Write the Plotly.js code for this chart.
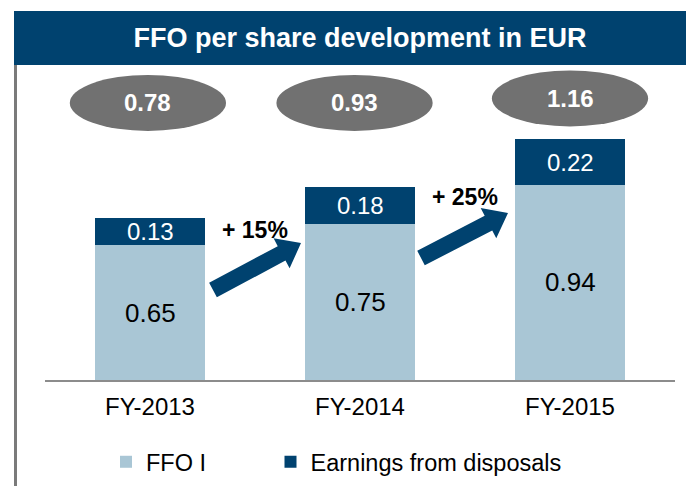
<!DOCTYPE html>
<html>
<head>
<meta charset="utf-8">
<script src="https://cdn.plot.ly/plotly-3.0.1.min.js"></script>
<style>
  html, body { margin: 0; padding: 0; background: #ffffff; }
  #chart { width: 686px; height: 486px; }
</style>
</head>
<body>
<div id="chart"></div>
<script>
// ---- data ----
const categories = ['FY-2013', 'FY-2014', 'FY-2015'];
const ffoI = [0.65, 0.75, 0.94];
const disposals = [0.13, 0.18, 0.22];
const totals = [0.78, 0.93, 1.16];
const growthLabels = ['+ 15%', '+ 25%'];
const seriesNames = ['FFO I', 'Earnings from disposals'];
const chartTitle = 'FFO per share development in EUR';

// ---- style ----
const FONT = '"Liberation Sans", Arial, Helvetica, sans-serif';
const NAVY = '#00426F';
const LIGHT = '#A9C6D5';
const GREY = '#717171';

const W = 686, H = 486;
const M = { l: 45, r: 11, t: 65, b: 106, autoexpand: false };
const plotW = W - M.l - M.r, plotH = H - M.t - M.b;
const yTop = 1.518;
const xRange = [-0.5, 2.5];

function pxX(px) { return (px - M.l) / plotW; }
function pxY(py) { return (H - M.b - py) / plotH; }

function arrowPath(tail, tip, shaftHalf, headHalf, headLen) {
  const dx = tip[0] - tail[0], dy = tip[1] - tail[1];
  const len = Math.sqrt(dx * dx + dy * dy);
  const ux = dx / len, uy = dy / len;
  const nx = -uy, ny = ux;
  const bx = tip[0] - headLen * ux, by = tip[1] - headLen * uy;
  const pts = [
    [tail[0] + shaftHalf * nx, tail[1] + shaftHalf * ny],
    [bx + shaftHalf * nx, by + shaftHalf * ny],
    [bx + headHalf * nx, by + headHalf * ny],
    [tip[0], tip[1]],
    [bx - headHalf * nx, by - headHalf * ny],
    [bx - shaftHalf * nx, by - shaftHalf * ny],
    [tail[0] - shaftHalf * nx, tail[1] - shaftHalf * ny]
  ];
  return 'M' + pts.map(p => pxX(p[0]).toFixed(5) + ',' + pxY(p[1]).toFixed(5)).join(' L') + ' Z';
}

const traces = [
  {
    type: 'bar', name: seriesNames[0], x: categories, y: ffoI,
    marker: { color: LIGHT, line: { width: 0 } },
    legend: 'legend', hoverinfo: 'skip'
  },
  {
    type: 'bar', name: seriesNames[1], x: categories, y: disposals,
    marker: { color: NAVY, line: { width: 0 } },
    legend: 'legend2', hoverinfo: 'skip'
  }
];

const annotations = [];
const shapes = [];

// banner
shapes.push({
  type: 'rect', xref: 'paper', yref: 'paper', layer: 'below',
  x0: pxX(14), x1: pxX(690), y0: pxY(65), y1: pxY(11),
  fillcolor: NAVY, line: { width: 0 }
});
// left border line
shapes.push({
  type: 'line', xref: 'paper', yref: 'paper',
  x0: pxX(15.5), x1: pxX(15.5), y0: pxY(65), y1: pxY(490),
  line: { color: '#7A7A7A', width: 3 }
});

// segment labels
categories.forEach((c, i) => {
  annotations.push({
    x: c, y: ffoI[i] / 2, xref: 'x', yref: 'y',
    text: ffoI[i].toFixed(2), showarrow: false,
    font: { family: FONT, size: 26, color: '#000000' }
  });
  annotations.push({
    x: c, y: ffoI[i] + disposals[i] / 2, xref: 'x', yref: 'y',
    text: disposals[i].toFixed(2), showarrow: false,
    font: { family: FONT, size: 24, color: '#FFFFFF' }
  });
});

// total ellipses
const ellY = [1.335, 1.335, 1.357];
const ellDX = [-0.01, -0.026, 0.0];
const ellHalfW = 0.372, ellHalfH = 0.135;
totals.forEach((t, i) => {
  shapes.push({
    type: 'circle', xref: 'x', yref: 'y',
    x0: i + ellDX[i] - ellHalfW, x1: i + ellDX[i] + ellHalfW,
    y0: ellY[i] - ellHalfH, y1: ellY[i] + ellHalfH,
    fillcolor: GREY, line: { width: 0 }
  });
  annotations.push({
    x: i + ellDX[i], y: ellY[i], xref: 'x', yref: 'y',
    text: '<b>' + t.toFixed(2) + '</b>', showarrow: false,
    font: { family: FONT, size: 24, color: '#FFFFFF' }
  });
});

// growth labels + arrows
const growthY = [0.723, 0.882];
growthLabels.forEach((g, i) => {
  annotations.push({
    x: i + 0.5, y: growthY[i], xref: 'x', yref: 'y',
    text: '<b>' + g + '</b>', showarrow: false,
    font: { family: FONT, size: 23, color: '#000000' }
  });
});
const arrows = [
  [[213, 290], [301, 243]],
  [[421, 258], [508, 213]]
];
arrows.forEach(a => {
  shapes.push({
    type: 'path', xref: 'paper', yref: 'paper',
    path: arrowPath(a[0], a[1], 8.2, 17, 22),
    fillcolor: NAVY, line: { width: 0 }
  });
});

const legendCommon = {
  orientation: 'h', xanchor: 'left', yanchor: 'middle',
  y: pxY(462), bgcolor: 'rgba(0,0,0,0)',
  font: { family: FONT, size: 23.5, color: '#000000' },
  itemclick: false, itemdoubleclick: false
};

const layout = {
  width: W, height: H,
  margin: M,
  paper_bgcolor: '#FFFFFF', plot_bgcolor: '#FFFFFF',
  barmode: 'stack', bargap: 0.473,
  hovermode: false,
  font: { family: FONT, color: '#000000' },
  title: {
    text: '<b>' + chartTitle + '</b>',
    font: { family: FONT, size: 27, color: '#FFFFFF' },
    xref: 'container', yref: 'container',
    x: 360 / W, y: 1 - 38 / H, xanchor: 'center', yanchor: 'middle'
  },
  xaxis: {
    type: 'category', range: xRange, fixedrange: true,
    showline: true, linecolor: '#8C8C8C', linewidth: 2,
    showgrid: false, zeroline: false, ticks: '',
    ticklabelstandoff: 4,
    tickfont: { family: FONT, size: 24, color: '#000000' }
  },
  yaxis: {
    range: [0, yTop], fixedrange: true,
    showgrid: false, zeroline: false, showline: false,
    showticklabels: false, ticks: ''
  },
  showlegend: true,
  legend: Object.assign({}, legendCommon, { x: pxX(106) }),
  legend2: Object.assign({}, legendCommon, { x: pxX(270.5) }),
  shapes: shapes,
  annotations: annotations
};

Plotly.newPlot('chart', traces, layout, { displayModeBar: false, staticPlot: true });
</script>
</body>
</html>
